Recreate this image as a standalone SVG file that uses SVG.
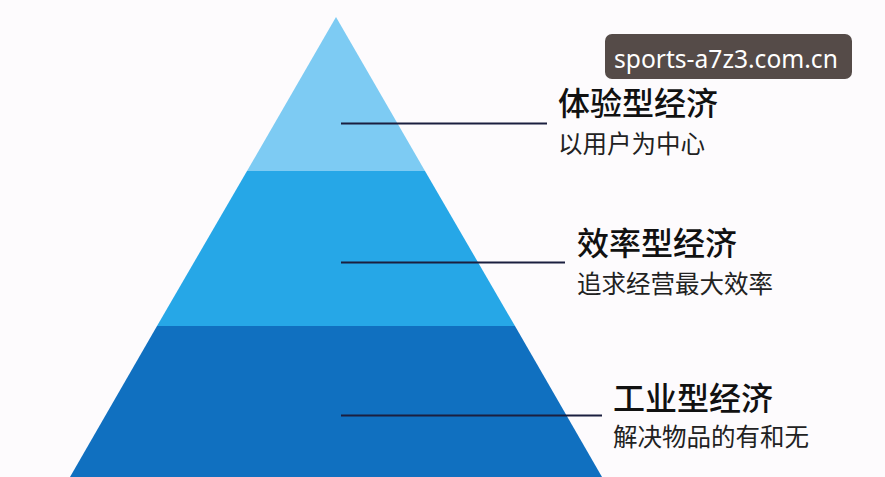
<svg xmlns="http://www.w3.org/2000/svg" width="885" height="477" viewBox="0 0 885 477">
<style>
.t{font-family:"Noto Sans CJK SC","Noto Sans",sans-serif;fill:#111;}
.h{font-size:32px;font-weight:500;}
.s{font-size:24.5px;font-weight:400;fill:#222;}
.ln{stroke:#1b1f3f;stroke-width:2;}
</style>
<rect width="885" height="477" fill="#fdfbfd"/>
<g id="level-top"><polygon points="336,17 425,171 247,171" fill="#7dcbf3"/></g>
<g id="level-middle"><polygon points="247,171 425,171 515,326 157,326" fill="#26a7e7"/></g>
<g id="level-bottom"><polygon points="157,326 515,326 602,477 70,477" fill="#1070c0"/></g>
<g id="connectors">
<line class="ln" x1="341" y1="123.5" x2="547" y2="123.5"/>
<line class="ln" x1="341" y1="262.5" x2="565" y2="262.5"/>
<line class="ln" x1="341" y1="415.5" x2="602" y2="415.5"/>
</g>
<g id="label-top">
<text class="t h" x="558" y="115">体验型经济</text>
<text class="t s" x="558" y="153">以用户为中心</text>
</g>
<g id="label-middle">
<text class="t h" x="577" y="255">效率型经济</text>
<text class="t s" x="577" y="293">追求经营最大效率</text>
</g>
<g id="label-bottom">
<text class="t h" x="613" y="410">工业型经济</text>
<text class="t s" x="613" y="446">解决物品的有和无</text>
</g>
<g id="watermark">
<rect x="605" y="34" width="247" height="45" rx="7" fill="#554b48"/>
<text x="614" y="68" font-family="Noto Sans, sans-serif" font-size="24.6" fill="#ffffff">sports-a7z3.com.cn</text>
</g>
</svg>
